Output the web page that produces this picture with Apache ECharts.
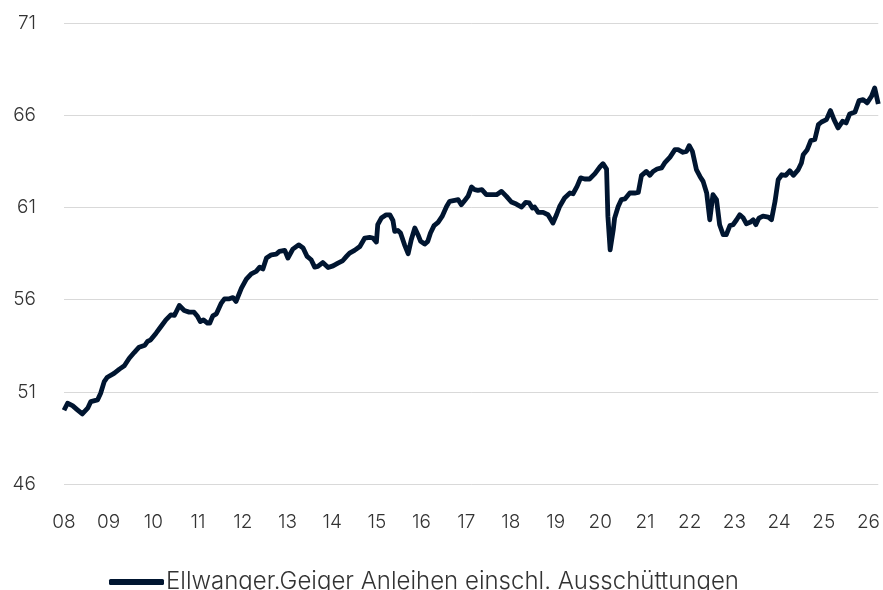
<!DOCTYPE html>
<html>
<head>
<meta charset="utf-8">
<script src="https://cdn.jsdelivr.net/npm/echarts@6/dist/echarts.min.js"></script>
<style>html,body{margin:0;padding:0;background:#fff}#c{width:883px;height:590px}</style>
</head>
<body>
<div id="c"></div>
<script>
const seriesName = 'Ellwanger.Geiger Anleihen einschl. Ausschüttungen';
const dates = [
2008.00,2008.08,2008.19,2008.30,2008.41,2008.53,2008.60,2008.75,2008.82,2008.90,2008.97,
2009.12,2009.24,2009.35,2009.46,2009.57,2009.68,2009.81,2009.87,2009.94,
2010.06,2010.17,2010.28,2010.39,2010.47,2010.58,2010.69,2010.80,2010.91,2010.99,
2011.05,2011.12,2011.21,2011.26,2011.33,2011.41,2011.52,2011.59,2011.70,2011.78,2011.85,2011.97,
2012.08,2012.19,2012.30,2012.38,2012.45,2012.53,2012.64,2012.75,2012.82,2012.94,
2013.01,2013.12,2013.25,2013.35,2013.44,2013.53,2013.61,2013.68,2013.79,2013.91,
2014.02,2014.13,2014.24,2014.32,2014.39,2014.50,2014.62,2014.73,2014.84,2014.91,2014.99,
2015.02,2015.10,2015.21,2015.29,2015.36,2015.40,2015.47,2015.53,2015.62,2015.70,2015.77,2015.85,2015.92,2015.98,
2016.07,2016.14,2016.20,2016.28,2016.37,2016.46,2016.56,2016.63,2016.74,2016.82,2016.89,2016.98,
2017.04,2017.12,2017.19,2017.26,2017.35,2017.45,2017.56,2017.68,2017.79,2017.90,
2018.01,2018.12,2018.24,2018.33,2018.41,2018.48,2018.53,2018.61,2018.72,2018.83,2018.94,
2019.02,2019.09,2019.20,2019.32,2019.39,2019.48,2019.56,2019.65,2019.76,2019.88,2019.99,
2020.06,2020.14,2020.17,2020.22,2020.29,2020.32,2020.40,2020.47,2020.55,2020.66,2020.77,2020.85,2020.92,
2021.03,2021.11,2021.18,2021.27,2021.37,2021.44,2021.56,2021.67,2021.74,2021.85,2021.93,2021.99,
2022.06,2022.15,2022.23,2022.30,2022.38,2022.45,2022.52,2022.60,2022.67,2022.75,2022.82,2022.90,2022.97,
2023.05,2023.12,2023.20,2023.27,2023.35,2023.42,2023.48,2023.55,2023.64,2023.76,2023.83,2023.91,2023.98,
2024.06,2024.15,2024.24,2024.32,2024.43,2024.50,2024.54,2024.63,2024.71,2024.80,2024.88,2024.95,
2025.06,2025.15,2025.23,2025.32,2025.42,2025.50,2025.58,2025.70,2025.79,2025.88,2025.97,
2026.07,2026.14,2026.22
];
const values = [
50.00,50.38,50.25,50.02,49.80,50.11,50.47,50.56,50.92,51.55,51.79,
52.00,52.23,52.41,52.82,53.13,53.42,53.53,53.73,53.82,
54.18,54.54,54.90,55.17,55.14,55.68,55.41,55.32,55.32,55.08,
54.81,54.90,54.72,54.72,55.12,55.23,55.81,56.04,56.04,56.11,55.90,56.62,
57.11,57.40,57.53,57.76,57.66,58.25,58.43,58.47,58.61,58.67,
58.25,58.74,58.97,58.80,58.34,58.16,57.76,57.80,58.01,57.74,
57.83,57.98,58.12,58.34,58.52,58.67,58.88,59.34,59.37,59.34,59.12,
60.06,60.42,60.60,60.60,60.29,59.70,59.75,59.61,58.97,58.49,59.25,59.88,59.52,59.16,
59.01,59.16,59.61,60.01,60.19,60.51,61.05,61.33,61.38,61.42,61.15,61.42,
61.60,62.11,61.96,61.92,61.96,61.69,61.69,61.69,61.87,61.60,
61.29,61.18,61.02,61.27,61.24,60.97,61.02,60.73,60.73,60.60,60.15,
60.60,61.05,61.51,61.78,61.74,62.14,62.60,62.54,62.54,62.83,63.19,
63.37,63.08,60.51,58.70,59.79,60.42,61.05,61.42,61.46,61.78,61.78,61.81,62.72,
62.95,62.74,62.95,63.08,63.14,63.41,63.73,64.13,64.13,63.99,64.04,64.35,
64.04,63.05,62.68,62.41,61.78,60.33,61.69,61.42,60.06,59.52,59.52,60.01,60.06,
60.33,60.60,60.42,60.11,60.19,60.33,60.06,60.42,60.53,60.47,60.33,61.33,62.50,
62.77,62.74,62.99,62.74,63.05,63.41,63.86,64.13,64.62,64.68,65.49,65.63,
65.76,66.25,65.76,65.31,65.67,65.58,66.07,66.18,66.79,66.84,66.67,
67.03,67.48,66.61
];
const yTicks = [46, 51, 56, 61, 66, 71];

const chart = echarts.init(document.getElementById('c'));
const FONT = 'Inter';
chart.setOption({
  animation: false,
  backgroundColor: '#ffffff',
  grid: { left: 64, right: 4, top: 23, bottom: 106, containLabel: false },
  xAxis: {
    type: 'value', min: 2008, max: 2026.22, interval: 1,
    axisLine: { show: false }, axisTick: { show: false }, splitLine: { show: false },
    axisLabel: {
      margin: 29, color: '#333', fontSize: 19, fontFamily: FONT, fontWeight: 300,
      showMaxLabel: false,
      formatter: v => Math.abs(v - Math.round(v)) < 1e-6 ? String(Math.round(v) % 100).padStart(2, '0') : ''
    }
  },
  yAxis: {
    type: 'value', min: yTicks[0], max: yTicks[yTicks.length - 1], interval: 5,
    axisLine: { show: false }, axisTick: { show: false },
    splitLine: { lineStyle: { color: '#d9d9d9', width: 1 } },
    axisLabel: { margin: 28, color: '#333', fontSize: 19, fontFamily: FONT, fontWeight: 300 }
  },
  legend: {
    left: 104, top: 565, icon: 'roundRect', itemWidth: 55, itemHeight: 6, itemGap: 4,
    textStyle: { color: '#333', fontSize: 24, fontFamily: FONT, fontWeight: 300, padding: [0,0,0,-3] },
    data: [seriesName]
  },
  series: [{
    name: seriesName, type: 'line', showSymbol: false, symbol: 'none',
    lineStyle: { color: '#001530', width: 4.8, join: 'round' },
    itemStyle: { color: '#001530' },
    data: dates.map((d, i) => [d, values[i]])
  }]
});
</script>
</body>
</html>
